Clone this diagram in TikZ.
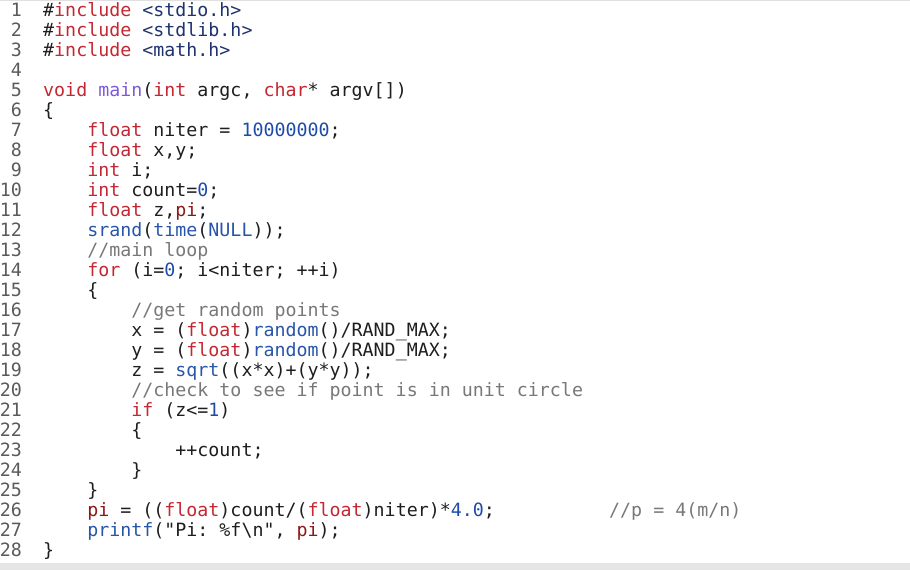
\documentclass[tikz,border=0pt]{standalone}
\usepackage{fontspec}
\setmonofont{DejaVu Sans Mono}
\definecolor{kw}{RGB}{195,40,50}
\definecolor{fn}{RGB}{125,90,220}
\definecolor{num}{RGB}{30,75,170}
\definecolor{lib}{RGB}{40,85,170}
\definecolor{hdr}{RGB}{30,50,110}
\definecolor{var}{RGB}{140,25,25}
\definecolor{cmt}{RGB}{120,120,120}
\definecolor{lno}{RGB}{90,90,90}
\definecolor{txt}{RGB}{30,30,30}
\newcommand\cdK[1]{\textcolor{kw}{#1}}
\newcommand\cdF[1]{\textcolor{fn}{#1}}
\newcommand\cdN[1]{\textcolor{num}{#1}}
\newcommand\cdL[1]{\textcolor{lib}{#1}}
\newcommand\cdH[1]{\textcolor{hdr}{#1}}
\newcommand\cdV[1]{\textcolor{var}{#1}}
\newcommand\cdC[1]{\textcolor{cmt}{#1}}
\newcommand\cdY[1]{-16.5-20*(#1-1)}
\begin{document}
\begin{tikzpicture}[x=1pt,y=1pt,
  code/.style={anchor=base west,inner sep=0pt,font=\fontsize{18.3}{20}\ttfamily,text=txt},
  lnum/.style={anchor=base east,inner sep=0pt,font=\fontsize{18.3}{20}\ttfamily,text=lno}]
\useasboundingbox (0,0) rectangle (910,-570);
\fill[black!10] (0,-563) rectangle (910,-570);
\draw[black!12] (0,-0.5) -- (910,-0.5);
\foreach \i in {1,...,28} {\node[lnum] (n\i) at (22,{\cdY{\i}}) {\i};}
\node[code] (l1) at (43,{\cdY{1}}) {\#\cdK{include} \cdH{<stdio.h>}};
\node[code] (l2) at (43,{\cdY{2}}) {\#\cdK{include} \cdH{<stdlib.h>}};
\node[code] (l3) at (43,{\cdY{3}}) {\#\cdK{include} \cdH{<math.h>}};
\node[code] (l5) at (43,{\cdY{5}}) {\cdK{void} \cdF{main}(\cdK{int} argc, \cdK{char}* argv[])};
\node[code] (l6) at (43,{\cdY{6}}) {\{};
\node[code] (l7) at (43,{\cdY{7}}) {\phantom{xxxx}\cdK{float} niter = \cdN{10000000};};
\node[code] (l8) at (43,{\cdY{8}}) {\phantom{xxxx}\cdK{float} x,y;};
\node[code] (l9) at (43,{\cdY{9}}) {\phantom{xxxx}\cdK{int} i;};
\node[code] (l10) at (43,{\cdY{10}}) {\phantom{xxxx}\cdK{int} count=\cdN{0};};
\node[code] (l11) at (43,{\cdY{11}}) {\phantom{xxxx}\cdK{float} z,\cdV{pi};};
\node[code] (l12) at (43,{\cdY{12}}) {\phantom{xxxx}\cdL{srand}(\cdL{time}(\cdL{NULL}));};
\node[code] (l13) at (43,{\cdY{13}}) {\phantom{xxxx}\cdC{//main loop}};
\node[code] (l14) at (43,{\cdY{14}}) {\phantom{xxxx}\cdK{for} (i=\cdN{0}; i<niter; ++i)};
\node[code] (l15) at (43,{\cdY{15}}) {\phantom{xxxx}\{};
\node[code] (l16) at (43,{\cdY{16}}) {\phantom{xxxxxxxx}\cdC{//get random points}};
\node[code] (l17) at (43,{\cdY{17}}) {\phantom{xxxxxxxx}x = (\cdK{float})\cdL{random}()/RAND\_MAX;};
\node[code] (l18) at (43,{\cdY{18}}) {\phantom{xxxxxxxx}y = (\cdK{float})\cdL{random}()/RAND\_MAX;};
\node[code] (l19) at (43,{\cdY{19}}) {\phantom{xxxxxxxx}z = \cdL{sqrt}((x*x)+(y*y));};
\node[code] (l20) at (43,{\cdY{20}}) {\phantom{xxxxxxxx}\cdC{//check to see if point is in unit circle}};
\node[code] (l21) at (43,{\cdY{21}}) {\phantom{xxxxxxxx}\cdK{if} (z<=\cdN{1})};
\node[code] (l22) at (43,{\cdY{22}}) {\phantom{xxxxxxxx}\{};
\node[code] (l23) at (43,{\cdY{23}}) {\phantom{xxxxxxxxxxxx}++count;};
\node[code] (l24) at (43,{\cdY{24}}) {\phantom{xxxxxxxx}\}};
\node[code] (l25) at (43,{\cdY{25}}) {\phantom{xxxx}\}};
\node[code] (l26) at (43,{\cdY{26}}) {\phantom{xxxx}\cdV{pi} = ((\cdK{float})count/(\cdK{float})niter)*\cdN{4.0};};
\node[code] (c26) at (609,{\cdY{26}}) {\cdC{//p = 4(m/n)}};
\node[code] (l27) at (43,{\cdY{27}}) {\phantom{xxxx}\cdL{printf}("Pi: \%f\textbackslash n", \cdV{pi});};
\node[code] (l28) at (43,{\cdY{28}}) {\}};
\end{tikzpicture}
\end{document}
